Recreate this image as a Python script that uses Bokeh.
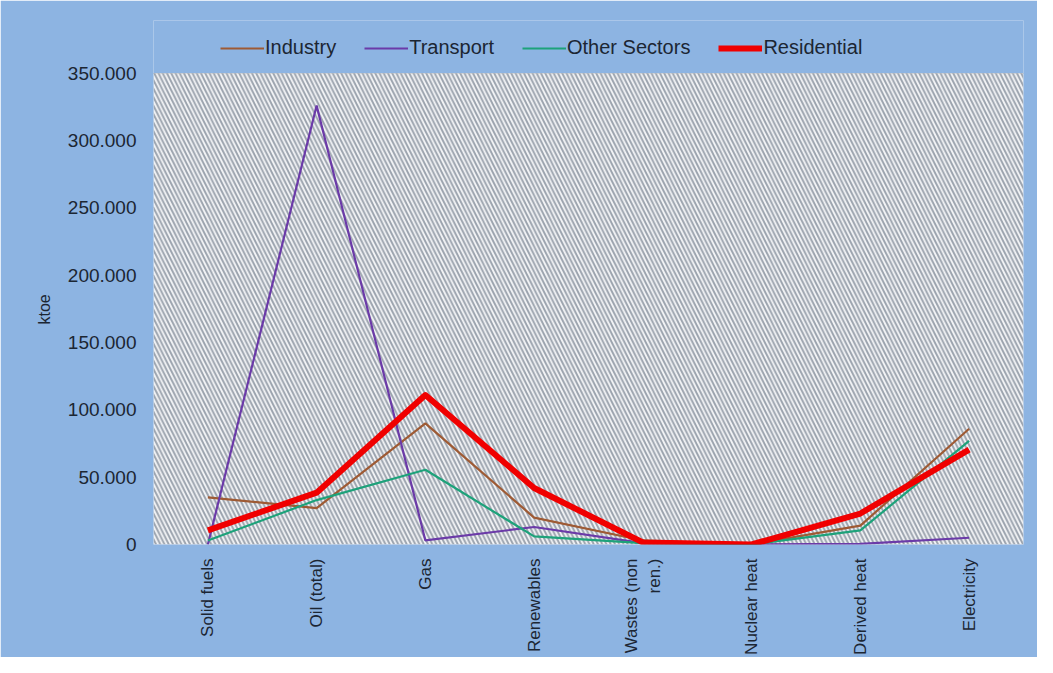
import math
from bokeh.plotting import figure
from bokeh.models import (FactorRange, Range1d, FixedTicker, BoxAnnotation, Legend, LegendItem, Title)
from bokeh.embed import file_html
from bokeh.resources import INLINE

categories = ["Solid fuels", "Oil (total)", "Gas", "Renewables", "Wastes (non\nren.)",
              "Nuclear heat", "Derived heat", "Electricity"]
industry = [35000, 27000, 90000, 20000, 3000, 0, 14000, 86000]
transport = [0, 326000, 3000, 13000, 1000, 0, 500, 5000]
other_sectors = [3000, 33000, 55500, 6000, 1000, 0, 10500, 77000]
residential = [10500, 38500, 111000, 42000, 1500, 0, 23000, 70500]

y_ticks = [0, 50000, 100000, 150000, 200000, 250000, 300000, 350000]
y_labels = ["0", "50.000", "100.000", "150.000", "200.000", "250.000", "300.000", "350.000"]

FONT = "Liberation Sans"
BLUE = "#8db4e2"
TEXT = "#1c2633"

Y_MAX = y_ticks[-1]
TOP = 20            # frame top (px) -- the band above the hatched area holds the legend
AREA_TOP = 73       # top of the hatched plotting area (px)
AREA_BOTTOM = 546   # bottom of the plotting area (px)
H = 657
y_end = Y_MAX * (AREA_BOTTOM - TOP) / (AREA_BOTTOM - AREA_TOP)

p = figure(width=1037, height=H, output_backend="svg", toolbar_location=None,
           x_range=FactorRange(*categories, range_padding=0),
           y_range=Range1d(0, y_end),
           min_border_left=153, min_border_right=14, min_border_top=TOP,
           min_border_bottom=H - AREA_BOTTOM)
p.border_fill_color = BLUE
p.background_fill_color = BLUE
p.outline_line_color = None

p.add_layout(BoxAnnotation(top=Y_MAX, fill_color="#f3f4f6", fill_alpha=1.0, line_color=None,
                           hatch_pattern="\\", hatch_color="#9aa2ad", hatch_scale=8.5,
                           hatch_weight=1.9, hatch_alpha=1.0, level="underlay"))

p.xgrid.grid_line_color = None
p.ygrid.grid_line_color = "#7d858f"
p.ygrid.grid_line_width = 1.2
p.ygrid.ticker = FixedTicker(ticks=y_ticks)

p.yaxis.ticker = FixedTicker(ticks=y_ticks)
p.yaxis.major_label_overrides = {t: l for t, l in zip(y_ticks, y_labels)}
p.yaxis.axis_line_color = None
p.yaxis.major_tick_line_color = None
p.yaxis.minor_tick_line_color = None
p.yaxis.major_label_standoff = 11
p.yaxis.major_label_text_font = FONT
p.yaxis.major_label_text_font_size = "19px"
p.yaxis.major_label_text_color = TEXT

ylabel = Title(text="ktoe", align="left", text_font=FONT, text_font_style="normal",
               text_font_size="16px", text_color=TEXT, offset=220, standoff=24)
p.add_layout(ylabel, "left")

p.xaxis.axis_line_color = None
p.xaxis.major_tick_line_color = None
p.xaxis.minor_tick_line_color = None
p.xaxis.major_label_orientation = math.pi / 2
p.xaxis.major_label_standoff = 8
p.xaxis.major_label_text_font = FONT
p.xaxis.major_label_text_font_size = "17px"
p.xaxis.major_label_text_color = TEXT

r_ind = p.line(categories, industry, line_color="#9e5a34", line_width=2.2)
r_tra = p.line(categories, transport, line_color="#6b3aa8", line_width=2.2)
r_oth = p.line(categories, other_sectors, line_color="#1da27a", line_width=2.2)
r_res = p.line(categories, residential, line_color="#f00000", line_width=6, line_join="round")

legend = Legend(items=[LegendItem(label="Industry", renderers=[r_ind]),
                       LegendItem(label="Transport", renderers=[r_tra]),
                       LegendItem(label="Other Sectors", renderers=[r_oth]),
                       LegendItem(label="Residential", renderers=[r_res])],
                orientation="horizontal", location=(67, 485),
                background_fill_alpha=0, border_line_color=None,
                label_text_font=FONT, label_text_font_size="20px", label_text_color=TEXT,
                glyph_width=44, label_standoff=1, spacing=28, padding=0, margin=0)
p.add_layout(legend)

open("out.html", "w").write(file_html(p, INLINE))
